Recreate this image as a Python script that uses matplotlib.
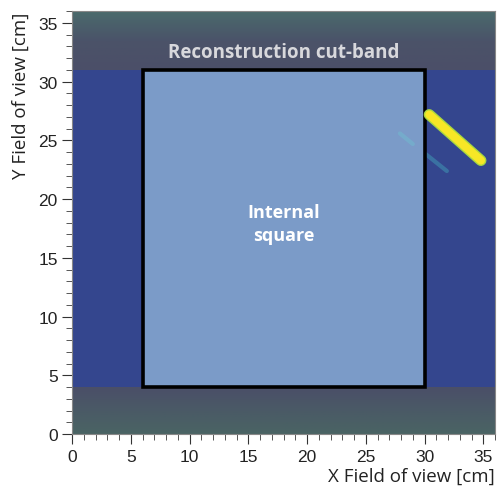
import numpy as np
import matplotlib.pyplot as plt
from matplotlib.patches import Rectangle
from matplotlib.colors import LinearSegmentedColormap

# Field of view and regions [cm]
fov = [0, 36]
band_low = [0, 4]        # reconstruction cut-band (bottom)
band_high = [31, 36]     # reconstruction cut-band (top)
square_x = [6, 30]       # internal square
square_y = [4, 31]

# Tracks seen in the image: (x0, y0) -> (x1, y1)
track_x = [30.4, 34.8]
track_y = [27.2, 23.3]
faint_x = [27.9, 31.9]
faint_y = [25.6, 22.4]

fig = plt.figure(figsize=(4.98, 4.89), dpi=100)
ax = fig.add_axes([0.145, 0.11, 0.849, 0.865])

# Detector background
ax.add_patch(Rectangle((fov[0], fov[0]), fov[1], fov[1], color='#34468e', zorder=0))

# Cut-bands with a soft vertical gradient (greenish at the outer edge)
band_cmap = LinearSegmentedColormap.from_list('band', ['#4b4f68', '#4b5369', '#4a6a6c'])
grad = np.linspace(0, 1, 50).reshape(-1, 1)
ax.imshow(grad, extent=[fov[0], fov[1], band_high[0], band_high[1]], origin='lower',
          cmap=band_cmap, aspect='auto', zorder=1)
ax.imshow(grad[::-1], extent=[fov[0], fov[1], band_low[0], band_low[1]], origin='lower',
          cmap=LinearSegmentedColormap.from_list('band2', ['#4b4f68', '#4a5a66', '#4a6464']),
          aspect='auto', zorder=1)

# Faint secondary track
ax.plot(faint_x, faint_y, color='#3f8fb0', lw=3, alpha=0.6, solid_capstyle='round', zorder=2)

# Internal square
ax.add_patch(Rectangle((square_x[0], square_y[0]), square_x[1] - square_x[0],
                       square_y[1] - square_y[0], facecolor='#7b9bc8', edgecolor='none', zorder=3))
ax.plot(faint_x[:1] + [29.0], faint_y[:1] + [24.7], color='#6fc0d0', lw=3, alpha=0.45,
        solid_capstyle='round', zorder=3.5)
ax.add_patch(Rectangle((square_x[0], square_y[0]), square_x[1] - square_x[0],
                       square_y[1] - square_y[0], fill=False, edgecolor='black', lw=2.6, zorder=4))

# Main track
ax.plot(track_x, track_y, color='#a8d840', lw=8, solid_capstyle='round', zorder=5)
ax.plot(track_x, track_y, color='#f7e726', lw=6, solid_capstyle='round', zorder=6)

ax.text(18, 32.5, 'Reconstruction cut-band', color='#d8d8dc', fontsize=13.5,
        fontweight='bold', family='Open Sans', ha='center', va='center', zorder=7)
ax.text(18, 17.9, 'Internal\nsquare', color='white', fontsize=13, fontweight='bold',
        family='Open Sans', ha='center', va='center', linespacing=1.35, zorder=7)

ax.set_xlim(fov)
ax.set_ylim(fov)
ax.set_xticks(np.arange(0, 36, 5))
ax.set_yticks(np.arange(0, 36, 5))
ax.set_xticks(np.arange(0, 37, 1), minor=True)
ax.set_yticks(np.arange(0, 37, 1), minor=True)
ax.tick_params(which='major', direction='out', length=7, width=0.8, colors='#333333',
               labelsize=12.5, labelcolor='#222222', labelfontfamily='Liberation Sans')
ax.tick_params(which='minor', direction='out', length=4, width=0.7, colors='#555555')
for s in ax.spines.values():
    s.set_color('#888888')
    s.set_linewidth(0.8)

ax.set_xlabel('X Field of view [cm]', fontsize=13.5, family='Open Sans', loc='right',
              labelpad=2, color='#222222')
ax.set_ylabel('Y Field of view [cm]', fontsize=13.5, family='Open Sans', loc='top',
              labelpad=6, color='#222222')

fig.savefig('out.png', dpi=100)
